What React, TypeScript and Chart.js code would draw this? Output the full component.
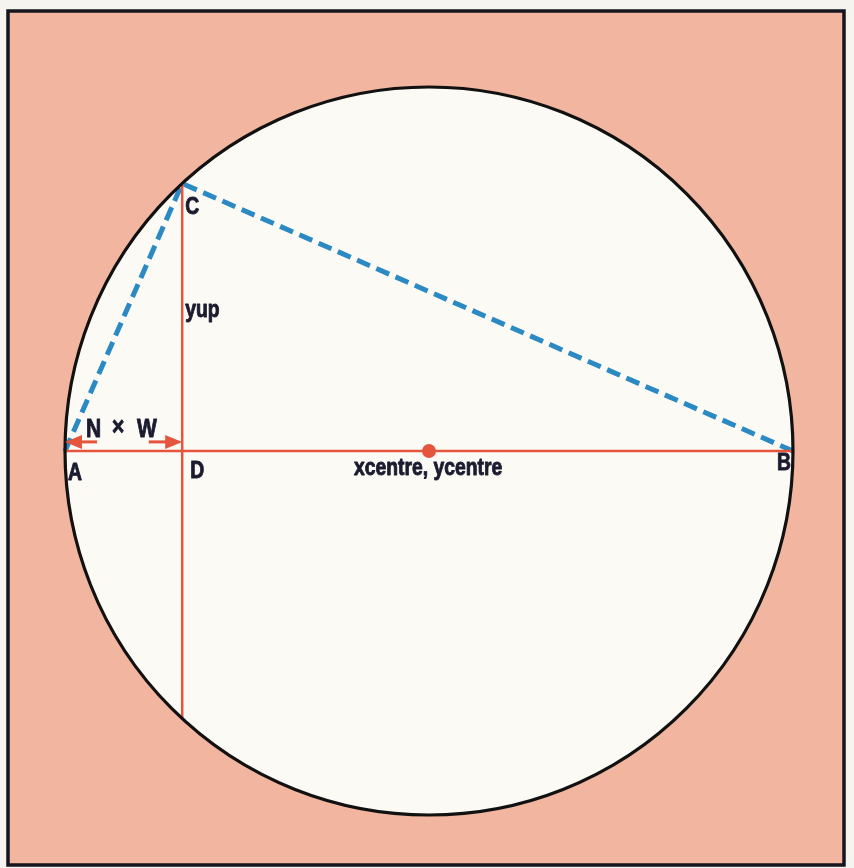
import React, { useEffect, useRef } from "react";
import { Chart, registerables } from "chart.js";

Chart.register(...registerables);

// Geometry of the figure in circle units (centre = 0,0, radius = 1)
const pointNames = ["A", "B", "C", "D", "C'", "centre"];
const pointX = [-1, 1, -0.678, -0.678, -0.678, 0];
const pointY = [0, 0, 0.735, 0, -0.735, 0];
const circleRadius = 1;

// Arrow segments for "N × W" (start x, tip x) at a small height above AB
const arrowStartX = [-0.912, -0.77];
const arrowTipX = [-1, -0.678];
const arrowY = 0.025;

const labelTexts = ["A", "B", "C", "D", "xcentre, ycentre", "yup"];
const nwParts = ["N", "×", "W"];

const RED = "#e5553e";
const BLUE = "#2b89c3";
const INK = "#1b1b30";
const SALMON = "#f1b5a0";

function P(name: string) {
  const i = pointNames.indexOf(name);
  return { x: pointX[i], y: pointY[i] };
}

export default function App() {
  const ref = useRef<HTMLCanvasElement | null>(null);

  useEffect(() => {
    if (!ref.current) return;

    const bgPlugin = {
      id: "bg",
      beforeDraw(chart: any) {
        const { ctx, scales } = chart;
        const xs = scales.x, ys = scales.y;
        ctx.save();
        ctx.fillStyle = "#f6f4ee";
        ctx.fillRect(0, 0, chart.width, chart.height);
        ctx.fillStyle = SALMON;
        ctx.fillRect(8, 11, 836, 854);
        const cx = xs.getPixelForValue(0), cy = ys.getPixelForValue(0);
        const rx = xs.getPixelForValue(circleRadius) - cx;
        const ry = cy - ys.getPixelForValue(circleRadius);
        ctx.beginPath();
        ctx.ellipse(cx, cy, rx, ry, 0, 0, Math.PI * 2);
        ctx.fillStyle = "#fcfaf5";
        ctx.fill();
        ctx.restore();
      },
      afterDraw(chart: any) {
        const { ctx, scales } = chart;
        const xs = scales.x, ys = scales.y;
        ctx.save();
        // frame
        ctx.strokeStyle = "#15151f";
        ctx.lineWidth = 3.5;
        ctx.strokeRect(8, 11, 836, 854);
        // circle
        const cx = xs.getPixelForValue(0), cy = ys.getPixelForValue(0);
        const rx = xs.getPixelForValue(circleRadius) - cx;
        const ry = cy - ys.getPixelForValue(circleRadius);
        ctx.beginPath();
        ctx.ellipse(cx, cy, rx, ry, 0, 0, Math.PI * 2);
        ctx.strokeStyle = "#111111";
        ctx.lineWidth = 3.2;
        ctx.stroke();
        // arrows
        ctx.strokeStyle = RED;
        ctx.fillStyle = RED;
        ctx.lineWidth = 3;
        for (let i = 0; i < arrowStartX.length; i++) {
          const x0 = xs.getPixelForValue(arrowStartX[i]);
          const x1 = xs.getPixelForValue(arrowTipX[i]);
          const y = ys.getPixelForValue(arrowY);
          const dir = Math.sign(x1 - x0);
          ctx.beginPath();
          ctx.moveTo(x0, y);
          ctx.lineTo(x1 - dir * 12, y);
          ctx.stroke();
          ctx.beginPath();
          ctx.moveTo(x1, y);
          ctx.lineTo(x1 - dir * 17, y - 7);
          ctx.lineTo(x1 - dir * 17, y + 7);
          ctx.closePath();
          ctx.fill();
        }
        // labels
        ctx.fillStyle = INK;
        ctx.strokeStyle = INK;
        ctx.lineWidth = 0.9;
        ctx.lineJoin = "round";
        ctx.textBaseline = "alphabetic";
        const txt = (t: string, x: number, y: number, size = 23) => {
          ctx.save();
          ctx.font = `bold ${size}px 'Liberation Sans', Arial, sans-serif`;
          ctx.translate(x, y);
          ctx.scale(0.84, 1);
          ctx.fillText(t, 0, 0);
          ctx.strokeText(t, 0, 0);
          ctx.restore();
        };
        const px = (n: string) => xs.getPixelForValue(P(n).x);
        const py = (n: string) => ys.getPixelForValue(P(n).y);
        txt(labelTexts[0], px("A") + 3, py("A") + 29);
        txt(labelTexts[1], px("B") - 16, py("B") + 19);
        txt(labelTexts[2], px("C") + 3, py("C") + 31);
        txt(labelTexts[3], px("D") + 8, py("D") + 27);
        txt(labelTexts[4], px("centre") - 75, py("centre") + 24);
        txt(labelTexts[5], px("C") + 3, (py("C") + py("D")) / 2 - 0);
        // N × W
        const ay = ys.getPixelForValue(arrowY);
        const ax = px("A");
        txt(nwParts[0], ax + 21, ay - 5, 25);
        txt(nwParts[1], ax + 47, ay - 7, 25);
        txt(nwParts[2], ax + 72, ay - 5, 25);
        ctx.restore();
      },
    };

    const line = (a: string, b: string) => [P(a), P(b)];

    const chart = new Chart(ref.current, {
      type: "scatter",
      data: {
        datasets: [
          {
            data: line("A", "B"),
            showLine: true,
            borderColor: RED,
            borderWidth: 2.5,
            pointRadius: 0,
          },
          {
            data: line("C", "C'"),
            showLine: true,
            borderColor: RED,
            borderWidth: 2.5,
            pointRadius: 0,
          },
          {
            data: [P("A"), P("C"), P("B")],
            showLine: true,
            borderColor: BLUE,
            borderWidth: 5,
            borderDash: [14, 7],
            pointRadius: 0,
          },
          {
            data: [P("centre")],
            pointRadius: 7,
            pointBackgroundColor: RED,
            pointBorderWidth: 0,
          },
        ],
      },
      options: {
        animation: false,
        responsive: false,
        devicePixelRatio: 1,
        layout: { padding: 0, autoPadding: false },
        plugins: { legend: { display: false }, tooltip: { enabled: false } },
        scales: {
          x: { type: "linear", display: false, min: -1.1786, max: 1.1676 },
          y: { type: "linear", display: false, min: -1.1456, max: 1.239 },
        },
      },
      plugins: [bgPlugin],
    });
    return () => chart.destroy();
  }, []);

  return (
    <div style={{ position: "absolute", left: 0, top: 0, width: 854, height: 868 }}>
      <canvas ref={ref} width={854} height={868} />
    </div>
  );
}
